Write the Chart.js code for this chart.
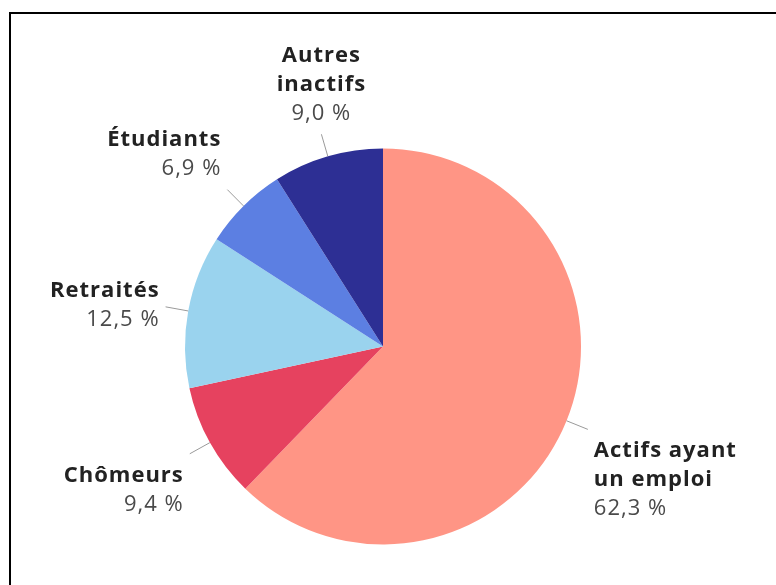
<!DOCTYPE html>
<html lang="fr">
<head>
  <meta charset="UTF-8">
  <title>Population par statut</title>
  <script src="https://cdn.jsdelivr.net/npm/chart.js@4"></script>
  <style>
    body { margin: 0; background: #fff; }
    .frame {
      position: absolute; left: 9px; top: 12px; right: 0; bottom: 0;
      border-top: 2px solid #000; border-left: 2px solid #000;
    }
    #pie { position: absolute; left: 0; top: 0; }
  </style>
</head>
<body>
<div class="frame"></div>
<canvas id="pie" width="776" height="585"></canvas>

<script>
// data (clockwise from 12 o'clock)
const categories = ['Actifs ayant\nun emploi', 'Chômeurs', 'Retraités', 'Étudiants', 'Autres\ninactifs'];
const values = [62.3, 9.4, 12.5, 6.9, 9.0];
const colors = ['#ff9585', '#e6425f', '#9ad3ee', '#5c7fe2', '#2d2f94'];

function fmt(v) {
  return v.toFixed(1).replace('.', ',') + ' %';
}

// labels outside the pie with a short leader line
const outsideLabels = {
  id: 'outsideLabels',
  afterDatasetsDraw(chart) {
    const ctx = chart.ctx;
    const meta = chart.getDatasetMeta(0);
    const lineH = 29;
    meta.data.forEach((arc, i) => {
      const mid = (arc.startAngle + arc.endAngle) / 2;
      const dx = Math.cos(mid), dy = Math.sin(mid);
      const r = arc.outerRadius;
      const sx = arc.x + dx * r, sy = arc.y + dy * r;
      const ex = arc.x + dx * (r + 23), ey = arc.y + dy * (r + 23);

      ctx.save();
      ctx.strokeStyle = '#9a9a9a';
      ctx.lineWidth = 1;
      ctx.beginPath();
      ctx.moveTo(sx, sy);
      ctx.lineTo(ex, ey);
      ctx.stroke();

      const lines = categories[i].split('\n');
      const h = (lines.length + 1) * lineH;
      let tx = ex, align = 'center';
      if (dx > 0.35) { align = 'left'; tx = ex + 6; }
      else if (dx < -0.35) { align = 'right'; tx = ex - 6; }
      const up = -dy;
      let top;
      if (up > 0.5) top = ey - h - 6;
      else if (up < -0.3) top = ey + 7;
      else top = ey - h / 2 - 2;

      ctx.textAlign = align;
      ctx.textBaseline = 'middle';
      ctx.letterSpacing = '1px';
      ctx.fillStyle = '#222';
      ctx.font = 'bold 22px "Open Sans"';
      lines.forEach((t, k) => ctx.fillText(t, tx, top + lineH / 2 + k * lineH));
      ctx.fillStyle = '#4a4a4a';
      ctx.font = '22px "Open Sans"';
      ctx.fillText(fmt(values[i]), tx, top + lineH / 2 + lines.length * lineH);
      ctx.restore();
    });
  }
};

new Chart(document.getElementById('pie'), {
  type: 'pie',
  data: {
    labels: categories,
    datasets: [{
      data: values,
      backgroundColor: colors,
      borderWidth: 0
    }]
  },
  options: {
    responsive: false,
    animation: false,
    layout: { padding: { left: 185, right: 195, top: 148.5, bottom: 40.5 } },
    plugins: {
      legend: { display: false },
      tooltip: { enabled: false }
    }
  },
  plugins: [outsideLabels]
});
</script>
</body>
</html>
